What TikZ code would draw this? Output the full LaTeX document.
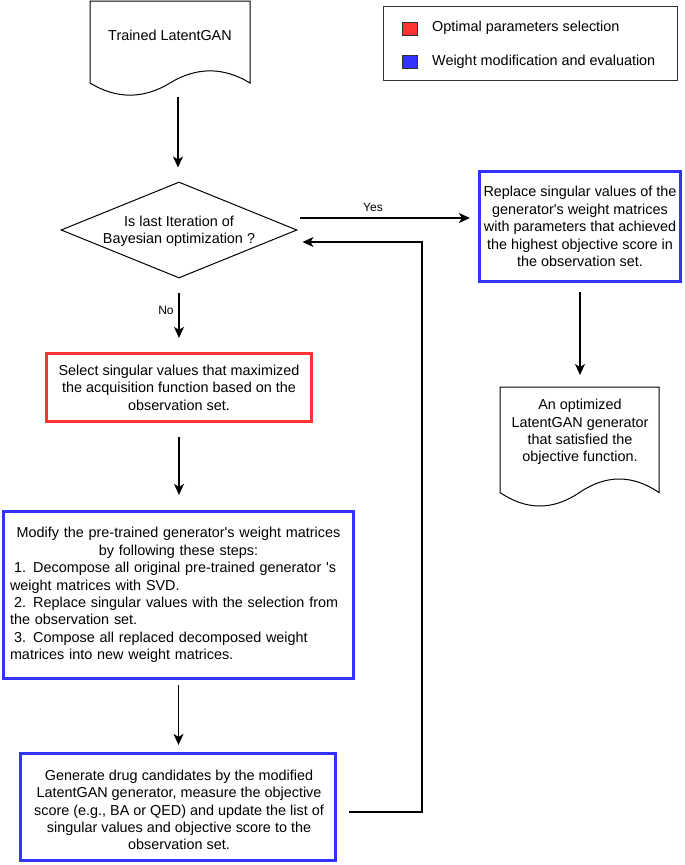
\documentclass[tikz,border=0pt]{standalone}
\usepackage{fontspec}
\newfontfamily\lsans{Liberation Sans}
\usetikzlibrary{arrows.meta,shapes.geometric}
\definecolor{bblue}{HTML}{3333FF}
\definecolor{rred}{HTML}{FF3333}
\begin{document}
\begin{tikzpicture}[x=1pt,y=-1pt,
  txt/.style={font=\lsans\fontsize{14.4}{17.4}\selectfont, align=center, inner sep=0pt},
  lbl/.style={font=\lsans\fontsize{12}{14}\selectfont, inner sep=0pt},
  bluebox/.style={draw=bblue, line width=3.2pt, inner sep=0pt},
  redbox/.style={draw=rred, line width=3.2pt, inner sep=0pt},
  shapeline/.style={draw=black, line width=1pt},
  arr/.style={draw=black, line width=1.2pt, -{Stealth[length=11pt,width=10pt,inset=3pt]}},
  legsq/.style={draw=black!80, line width=0.8pt, minimum width=15pt, minimum height=13pt, inner sep=0pt},
]
\useasboundingbox (0,0) rectangle (685,865);
\fill[white] (0,0) rectangle (685,865);

% Trained LatentGAN document
\draw[shapeline] (90,1) -- (250,1) -- (250,83)
  .. controls (223.3,66.8) and (196.7,66.8) .. (170,83)
  .. controls (143.3,99.2) and (116.7,99.2) .. (90,83) -- cycle;
\node[txt] (trained) at (170,35) {Trained LatentGAN};
\coordinate (trainedout) at (178,97);

% Legend
\node[draw=black!80, line width=1pt, minimum width=294pt, minimum height=74pt, inner sep=0pt] (legend) at (530,43) {};
\node[legsq, fill=rred] (legred) at (409.5,28.5) {};
\node[legsq, fill=bblue] (legblue) at (409.5,61.5) {};
\node[txt, anchor=west] (legredt) at (432,28) {Optimal parameters selection};
\node[txt, anchor=west] (legbluet) at (432,62) {Weight modification and evaluation};

% Decision
\node[draw, diamond, minimum width=236pt, minimum height=96pt, inner sep=0pt, line width=1pt] (dia) at (179,230) {};
\node[txt] (diat) at (179,231) {Is last Iteration of\\Bayesian optimization ?};

% Right box
\node[bluebox, txt, minimum width=201pt, minimum height=110pt] (rb) at (580,226.5)
  {Replace singular values of the\\generator's weight matrices\\with parameters that achieved\\the highest objective score in\\the observation set.};

% Optimized document
\draw[shapeline] (500,387) -- (659,387) -- (659,492.5)
  .. controls (632.5,474.5) and (606,474.5) .. (579.5,492.5)
  .. controls (553,510.5) and (526.5,510.5) .. (500,492.5) -- cycle;
\node[txt] (optim) at (580,432) {An optimized\\LatentGAN generator\\that satisfied the\\objective function.};
\coordinate (optimin) at (580,387);

% Select box
\node[redbox, txt, minimum width=265pt, minimum height=68pt] (sel) at (179,387.5)
  {Select singular values that maximized\\the acquisition function based on the\\observation set.};

% Modify box
\node[bluebox, minimum width=350pt, minimum height=167pt] (mod) at (178.5,595) {};
\node[font=\lsans\fontsize{14.4}{17.4}\selectfont, inner sep=0pt, text width=337pt] (modt) at (178.5,595)
  {\parindent=0pt\centering Modify the pre-trained generator's weight matrices\\by following these steps:\par
   \raggedright\hspace*{4pt}1. Decompose all original pre-trained generator 's\\weight matrices with SVD.\\
   \hspace*{4pt}2. Replace singular values with the selection from\\the observation set.\\
   \hspace*{4pt}3. Compose all replaced decomposed weight\\matrices into new weight matrices.\par};

% Generate box
\node[bluebox, minimum width=315pt, minimum height=107pt] (gen) at (178,807) {};
\node[txt] (gent) at (179,810)
  {Generate drug candidates by the modified\\LatentGAN generator, measure the objective\\score (e.g., BA or QED) and update the list of\\singular values and objective score to the\\observation set.};

% Connectors
\draw[arr, shorten >=14pt] (trainedout) -- (trainedout |- dia.north);
\coordinate (yesstart) at (300,218);
\draw[arr, shorten >=8pt] (yesstart) -- (yesstart -| rb.west);
\node[lbl] (yes) at (373,207) {Yes};
\draw[arr, shorten <=14pt, shorten >=14pt] (dia.south) -- (sel.north);
\node[lbl] (no) at (166,310) {No};
\draw[arr, shorten <=14pt, shorten >=15pt] (sel.south) -- (sel.south |- mod.north);
\draw[arr, shorten <=5pt, shorten >=7pt] (mod.south) -- (mod.south |- gen.north);
\draw[arr, shorten <=9pt, shorten >=12pt] (rb.south) -- (rb.south |- optimin);
\coordinate (fby) at (0,812);
\coordinate (fbturn) at (422,242);
\draw[arr, shorten <=12pt, shorten >=5pt] (gen.east |- fby) -- (fbturn |- fby) -- (fbturn) -- (dia.east |- fbturn);
\end{tikzpicture}
\end{document}
